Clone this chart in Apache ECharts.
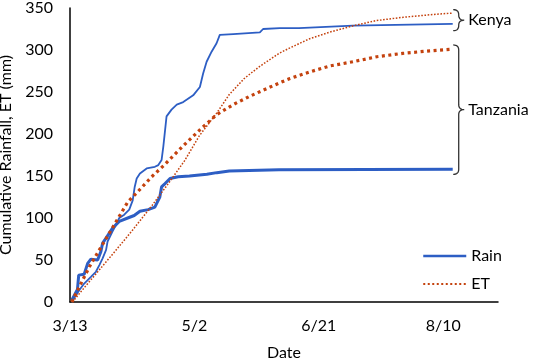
<!DOCTYPE html>
<html>
<head>
<meta charset="utf-8">
<script src="https://cdn.jsdelivr.net/npm/echarts@6/dist/echarts.min.js"></script>
<style>
  html, body { margin: 0; padding: 0; background: #fff; }
  #chart { width: 536px; height: 361px; }
</style>
</head>
<body>
<div id="chart"></div>
<script>
// ── Data (x = days after 3/13, y = mm) ─────────────────
const xTickLabels = ['3/13', '5/2', '6/21', '8/10'];

const rainKenya = [
  [0.7, 0], [3.7, 14], [5.7, 22], [8.4, 30], [10.4, 36], [11.8, 44], [13.1, 52],
  [14.5, 62], [15.1, 72], [17.1, 84], [18.5, 92], [19.8, 100], [21.8, 104],
  [23.8, 110], [25.2, 121], [26, 137], [26.8, 147], [28.1, 153], [30.8, 159],
  [34.1, 161], [35.5, 163], [36.8, 169], [37.5, 185], [38.8, 221], [40.8, 229],
  [42.9, 235], [45.5, 238], [49.5, 246], [52.2, 256], [53.5, 272], [54.9, 286],
  [56.9, 298], [58.9, 308], [60.2, 318], [65.6, 319], [76.3, 321], [77.6, 325],
  [84.3, 326], [92, 326], [92.4, 328], [113.7, 329], [153.8, 331],
];

const rainTanzania = [
  [0.7, 2], [3, 15], [3.5, 32], [5.7, 33], [7.1, 46], [8.4, 51], [11.1, 50],
  [12.4, 60], [13.1, 70], [14.5, 76], [17.1, 88], [19.8, 96], [23.2, 100],
  [25.8, 103], [28.1, 108], [31.4, 110], [34.1, 113], [36.1, 125], [36.8, 137],
  [38.2, 141], [40.2, 147], [43.5, 149], [48, 150], [55, 152], [59, 154],
  [64, 156], [84, 157.5], [153.8, 158],
];

const etKenya = [
  [1, 0], [6, 18], [12, 39], [18, 60], [25, 85], [33, 115], [40, 143], [46, 168],
  [52, 198], [59, 225], [64, 247], [70, 266], [76, 280], [80, 288], [84, 296],
  [88, 302], [96, 313], [104, 321], [114, 329], [123, 335], [134, 339],
  [145, 342], [153.8, 344],
];

const etTanzania = [
  [0.7, 0], [4.4, 22], [7.8, 42], [11.8, 62], [15.8, 82], [19.8, 102],
  [23.2, 119], [26.8, 130], [32.8, 149], [38.2, 164], [45.5, 186], [52.2, 205],
  [58.9, 223], [65.6, 235], [72.3, 245], [79, 254], [84.3, 261], [88.4, 266],
  [96.4, 274], [104.4, 281], [113.7, 286], [123.3, 292], [133.7, 296],
  [144.6, 299], [153.8, 301],
];

// brace annotations (mm range each brace spans)
const regionLabels = ['Kenya', 'Tanzania'];
const braceTop     = [348, 306];
const braceBottom  = [323, 152];
const braceDay     = 154;

// ── Style ──────────────────────────────────────────────
const FONT      = 'Lato, "Open Sans", sans-serif';
const RAIN_BLUE = '#2D5EC4';
const ET_RED    = '#C4420E';
const NO_SYMBOL = { color: 'transparent', borderWidth: 0 };

const chart = echarts.init(document.getElementById('chart'));

chart.setOption({
  animation: false,
  backgroundColor: '#fff',
  textStyle: { fontFamily: FONT, color: '#000' },
  grid: { left: 70, right: 38, top: 8, bottom: 59, outerBoundsMode: 'none' },

  legend: {
    orient: 'vertical',
    left: 417,
    top: 243,
    itemWidth: 43,
    itemHeight: 14,
    itemGap: 12,
    itemStyle: NO_SYMBOL,
    textStyle: { fontFamily: FONT, fontSize: 16, color: '#000' },
    data: [
      { name: 'Rain', itemStyle: NO_SYMBOL, lineStyle: { width: 2.5 } },
      { name: 'ET', itemStyle: NO_SYMBOL, lineStyle: { width: 2, type: [2, 2.5] } },
    ],
  },

  xAxis: {
    type: 'value',
    min: 0,
    max: 172,
    interval: 50,
    name: 'Date',
    nameLocation: 'middle',
    nameGap: 43,
    nameTextStyle: { fontFamily: FONT, fontSize: 16, color: '#000' },
    splitLine: { show: false },
    axisTick: { show: false },
    axisLine: { lineStyle: { color: '#000', width: 1.5 } },
    axisLabel: {
      fontFamily: FONT,
      fontSize: 16,
      color: '#000',
      margin: 16,
      showMaxLabel: false,
      formatter: v => xTickLabels[v / 50] ?? '',
    },
  },

  yAxis: {
    type: 'value',
    min: 0,
    max: 350,
    interval: 50,
    name: 'Cumulative Rainfall, ET (mm)',
    nameLocation: 'middle',
    nameGap: 38,
    nameTextStyle: { fontFamily: FONT, fontSize: 16, color: '#000' },
    splitLine: { show: false },
    axisTick: { show: false },
    axisLine: { show: true, lineStyle: { color: '#000', width: 1.5 } },
    axisLabel: { fontFamily: FONT, fontSize: 16, color: '#000', margin: 17 },
  },

  series: [
    {
      name: 'Rain', type: 'line', data: rainTanzania, symbol: 'none',
      lineStyle: { color: RAIN_BLUE, width: 3 }, itemStyle: { color: RAIN_BLUE },
      z: 3,
    },
    {
      name: 'Rain', type: 'line', data: rainKenya, symbol: 'none',
      lineStyle: { color: RAIN_BLUE, width: 1.8 }, itemStyle: { color: RAIN_BLUE },
      z: 3,
    },
    {
      name: 'ET', type: 'line', data: etTanzania, symbol: 'none',
      lineStyle: { color: ET_RED, width: 3.2, type: [3, 3.5] }, itemStyle: { color: ET_RED },
      z: 4,
    },
    {
      name: 'ET', type: 'line', data: etKenya, symbol: 'none',
      lineStyle: { color: ET_RED, width: 1.5, type: [1.6, 1.6] }, itemStyle: { color: ET_RED },
      z: 4,
    },
  ],
});

// ── Braces with region labels ──────────────────────────
// "}" shape sampled as a polyline
function bracePoints(x0, y0, y1, w) {
  const xm = x0 + w * 0.5;
  const xt = x0 + w;
  const ym = (y0 + y1) / 2;
  const r  = Math.min(5, (y1 - y0) / 4);
  const quad = (p0, c, p1) => {
    const out = [];
    for (let t = 0; t <= 1.0001; t += 0.125) {
      const a = (1 - t) * (1 - t), b = 2 * (1 - t) * t, d = t * t;
      out.push([a * p0[0] + b * c[0] + d * p1[0], a * p0[1] + b * c[1] + d * p1[1]]);
    }
    return out;
  };
  return [
    ...quad([x0, y0], [xm, y0], [xm, y0 + r]),
    ...quad([xm, ym - r], [xm, ym], [xt, ym]),
    ...quad([xt, ym], [xm, ym], [xm, ym + r]),
    ...quad([xm, y1 - r], [xm, y1], [x0, y1]),
  ];
}

const graphics = [];
regionLabels.forEach((label, i) => {
  const pTop = chart.convertToPixel({ gridIndex: 0 }, [braceDay, braceTop[i]]);
  const pBot = chart.convertToPixel({ gridIndex: 0 }, [braceDay, braceBottom[i]]);
  const w = 11;
  graphics.push({
    type: 'polyline',
    shape: { points: bracePoints(pTop[0], pTop[1], pBot[1], w) },
    style: { fill: null, stroke: '#333', lineWidth: 1.3 },
  });
  graphics.push({
    type: 'text',
    x: pTop[0] + w + 4,
    y: (pTop[1] + pBot[1]) / 2,
    style: {
      text: label,
      font: '16px ' + FONT,
      fill: '#000',
      verticalAlign: 'middle',
    },
  });
});
chart.setOption({ graphic: graphics });
</script>
</body>
</html>
